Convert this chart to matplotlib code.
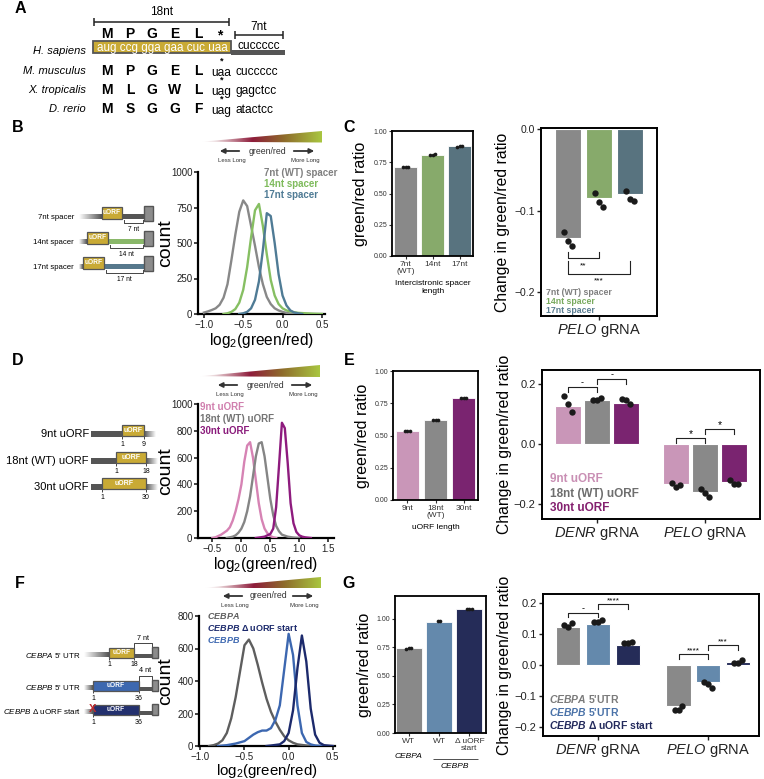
import numpy as np
import matplotlib
matplotlib.use('Agg')
import matplotlib.pyplot as plt
from matplotlib.patches import Rectangle, Polygon
from matplotlib.colors import LinearSegmentedColormap

plt.rcParams['font.family'] = ['Liberation Sans', 'DejaVu Sans']
plt.rcParams['mathtext.fontset'] = 'custom'
plt.rcParams['mathtext.rm'] = 'Liberation Sans'
plt.rcParams['mathtext.it'] = 'Liberation Sans:italic'
plt.rcParams['mathtext.bf'] = 'Liberation Sans:bold'
if 'mathtext.bfit' in plt.rcParams:
    plt.rcParams['mathtext.bfit'] = 'Liberation Sans:bold:italic'

# ------------------------------------------------------------------ data
# Panel B histograms (log2 green/red -> count)
b7_x = [-1.0, -0.95, -0.9, -0.85, -0.8, -0.75, -0.7, -0.65, -0.6, -0.55, -0.5, -0.45,
        -0.4, -0.35, -0.3, -0.25, -0.2, -0.15, -0.1, -0.05, 0.0, 0.05, 0.1, 0.15]
b7_y = [10, 18, 28, 40, 65, 115, 210, 380, 560, 720, 800, 760,
        620, 480, 330, 210, 120, 70, 40, 25, 15, 8, 3, 0]
b14_x = [-0.75, -0.7, -0.65, -0.6, -0.55, -0.5, -0.45, -0.4, -0.35, -0.3, -0.25, -0.2,
         -0.15, -0.1, -0.05, 0.0, 0.05, 0.1, 0.15, 0.2, 0.3, 0.4, 0.5]
b14_y = [0, 5, 15, 35, 80, 170, 330, 540, 730, 775, 620, 420,
         240, 130, 70, 40, 25, 18, 12, 8, 5, 2, 0]
b17_x = [-0.55, -0.5, -0.45, -0.4, -0.35, -0.3, -0.25, -0.2, -0.15, -0.1, -0.05,
         0.0, 0.05, 0.1, 0.15, 0.2, 0.25]
b17_y = [0, 5, 15, 40, 100, 230, 450, 710, 690, 500, 280, 130, 60, 25, 10, 5, 0]

# Panel C
c_labels = ['7nt\n(WT)', '14nt', '17nt']
c_ratio = [0.71, 0.81, 0.88]
c_ratio_reps = [[0.710, 0.711, 0.713], [0.806, 0.810, 0.815], [0.876, 0.878, 0.881]]
c_change = [-0.133, -0.084, -0.080]
c_change_reps = [[-0.126, -0.137, -0.143], [-0.078, -0.089, -0.095], [-0.076, -0.085, -0.088]]
c_legend = ['7nt (WT) spacer', '14nt spacer', '17nt spacer']

# Panel D histograms
d9_x = [-0.5, -0.45, -0.4, -0.35, -0.3, -0.25, -0.2, -0.15, -0.1, -0.05, 0.0, 0.05, 0.1,
        0.15, 0.2, 0.25, 0.3, 0.35, 0.4, 0.45, 0.5, 0.55, 0.6]
d9_y = [0, 5, 15, 25, 40, 55, 80, 130, 200, 290, 400, 570, 690,
        715, 600, 430, 260, 140, 70, 35, 15, 5, 0]
d18_x = [-0.25, -0.2, -0.15, -0.1, -0.05, 0.0, 0.05, 0.1, 0.15, 0.2, 0.25, 0.3, 0.35,
         0.4, 0.45, 0.5, 0.55, 0.6, 0.65, 0.7, 0.8, 0.9, 1.0]
d18_y = [0, 5, 10, 20, 40, 70, 120, 200, 310, 460, 610, 705, 715,
         610, 450, 290, 170, 90, 50, 25, 10, 3, 0]
d30_x = [0.25, 0.3, 0.4, 0.5, 0.55, 0.6, 0.65, 0.7, 0.75, 0.8, 0.85, 0.9, 0.95, 1.0,
         1.05, 1.1, 1.2]
d30_y = [0, 3, 10, 30, 70, 230, 540, 860, 820, 560, 260, 110, 45, 20, 10, 5, 0]

# Panel E
e_labels = ['9nt', '18nt\n(WT)', '30nt']
e_ratio = [0.535, 0.62, 0.79]
e_ratio_reps = [[0.535, 0.535, 0.537], [0.620, 0.621, 0.623], [0.789, 0.790, 0.790]]
e_groups = ['DENR', 'PELO']
e_denr = [0.128, 0.147, 0.136]
e_denr_reps = [[0.161, 0.134, 0.106], [0.147, 0.148, 0.152], [0.150, 0.148, 0.132]]
e_pelo = [-0.133, -0.159, -0.126]
e_pelo_reps = [[-0.131, -0.142, -0.136], [-0.150, -0.164, -0.178], [-0.120, -0.134, -0.134]]
e_legend = ['9nt uORF', '18nt (WT) uORF', '30nt uORF']

# Panel F histograms
fa_x = [-0.9, -0.85, -0.8, -0.75, -0.7, -0.65, -0.6, -0.55, -0.5, -0.45, -0.4, -0.35,
        -0.3, -0.25, -0.2, -0.15, -0.1, -0.05, 0.0, 0.05, 0.1, 0.2, 0.3]
fa_y = [0, 5, 15, 35, 80, 170, 300, 460, 620, 655, 600, 500,
        390, 290, 210, 150, 100, 60, 35, 20, 10, 3, 0]
fb_x = [-0.8, -0.7, -0.6, -0.5, -0.45, -0.4, -0.35, -0.3, -0.25, -0.2, -0.15, -0.1,
        -0.05, 0.0, 0.05, 0.1, 0.15, 0.2, 0.25, 0.3, 0.4]
fb_y = [0, 5, 15, 30, 50, 70, 85, 95, 95, 110, 160, 250,
        470, 690, 560, 250, 80, 25, 10, 3, 0]
fd_x = [-0.25, -0.2, -0.1, -0.05, 0.0, 0.05, 0.1, 0.15, 0.2, 0.25, 0.3, 0.35, 0.4, 0.5]
fd_y = [0, 3, 10, 30, 80, 220, 480, 680, 520, 230, 70, 20, 5, 0]

# Panel G
g_labels = ['WT', 'WT', '\u0394 uORF\nstart']
g_ratio = [0.743, 0.976, 1.088]
g_ratio_reps = [[0.738, 0.741, 0.746], [0.978, 0.982], [1.086, 1.088, 1.090]]
g_denr = [0.123, 0.132, 0.065]
g_denr_reps = [[0.130, 0.123, 0.135], [0.140, 0.140, 0.145], [0.070, 0.070, 0.074]]
g_pelo = [-0.133, -0.056, 0.010]
g_pelo_reps = [[-0.144, -0.144, -0.131], [-0.054, -0.060, -0.074], [0.008, 0.008, 0.016]]

# ------------------------------------------------------------------ figure
W, H = 764, 779
fig = plt.figure(figsize=(W / 100, H / 100), dpi=100)


def axpx(l, t, r, b):
    return fig.add_axes([l / W, 1 - b / H, (r - l) / W, (b - t) / H])


def hist_ax(ax, curves, xlim, ylim, xticks, yticks, lab_x, xl_pad=1, xl_fs=11.2):
    for x, y, c in curves:
        ax.plot(x, y, color=c, lw=1.7, zorder=3)
    ax.set_xlim(xlim)
    ax.set_ylim(ylim)
    for s in ['top', 'right']:
        ax.spines[s].set_visible(False)
    for s in ['left', 'bottom']:
        ax.spines[s].set_linewidth(1.6)
    ax.set_xticks(xticks)
    ax.set_yticks(yticks)
    ax.tick_params(labelsize=7, length=3, width=1.2, pad=1, colors='#222222')
    ax.set_xlabel('log$_2$(green/red)', fontsize=xl_fs, labelpad=xl_pad)
    ax.set_ylabel('count', fontsize=14)
    ax.yaxis.set_label_coords(lab_x, 0.5)


def small_bar(ax, vals, reps, colors, labels, ylim, xlabel, width=0.82, lab_x=-0.28):
    x = np.arange(1, len(vals) + 1)
    ax.bar(x, vals, width=width, color=colors, edgecolor='white', lw=0.6, zorder=2)
    for xi, r in zip(x, reps):
        n = len(r)
        jx = xi + (np.arange(n) - (n - 1) / 2) * 0.09
        ax.scatter(jx, r, s=7, color='#1a1a1a', lw=0, zorder=3)
    ax.set_xlim(0.5, len(vals) + 0.5)
    ax.set_ylim(ylim)
    ax.set_xticks(x)
    ax.set_xticklabels(labels, fontsize=6, linespacing=1.1)
    ax.set_yticks([0, 0.25, 0.5, 0.75, 1.0])
    ax.set_yticklabels(['0.00', '0.25', '0.50', '0.75', '1.00'], fontsize=5)
    ax.tick_params(length=2, width=0.8, pad=1.5, colors='#333333')
    for s in ax.spines.values():
        s.set_linewidth(1.3)
    ax.set_ylabel('green/red ratio', fontsize=11.5)
    ax.yaxis.set_label_coords(lab_x, 0.5)
    if xlabel:
        ax.set_xlabel(xlabel, fontsize=6, labelpad=3, linespacing=1.2)


def change_bars(ax, centers, vals, reps, colors, width):
    ax.bar(centers, vals, width=width, color=colors, edgecolor='white', lw=0.8, zorder=2)
    for c, r in zip(centers, reps):
        n = len(r)
        jx = c + (np.arange(n) - (n - 1) / 2) * 0.035
        ax.scatter(jx, r, s=21, color='#1a1a1a', lw=0, zorder=3)


def style_change(ax, yticks, ytl, fs=8, lab_x=-0.14):
    for s in ax.spines.values():
        s.set_linewidth(1.4)
    ax.set_yticks(yticks)
    ax.set_yticklabels(ytl, fontsize=fs)
    ax.tick_params(length=3, width=1.0, pad=1.5, colors='#222222')
    ax.set_ylabel('Change in green/red ratio', fontsize=11.3)
    ax.yaxis.set_label_coords(lab_x, 0.5)


def bracket(ax, x0, x1, y, tip, label, ty, fs=6.5):
    ax.plot([x0, x0, x1, x1], [tip, y, y, tip], color='#222222', lw=0.8, zorder=4)
    ax.text((x0 + x1) / 2, ty, label, ha='center', va='center', fontsize=fs, zorder=4)


# ---------------- Panel B histogram
axB = axpx(198, 172, 325, 314)
hist_ax(axB, [(b7_x, b7_y, '#888888'), (b14_x, b14_y, '#86bf62'), (b17_x, b17_y, '#4f7b95')],
        (-1.075, 0.54), (0, 1000), [-1.0, -0.5, 0.0, 0.5], [0, 250, 500, 750, 1000], -0.19)

# ---------------- Panel C
axC1 = axpx(392, 131, 473, 256)
small_bar(axC1, c_ratio, c_ratio_reps, ['#898989', '#87aa6b', '#58737f'], c_labels, (0, 1.0),
          'Intercistronic spacer\nlength', lab_x=-0.30)

axC2 = axpx(541, 128, 657, 316)
c_cent = [0.7, 1.0, 1.3]
change_bars(axC2, c_cent, c_change, c_change_reps, ['#898989', '#87aa6b', '#58737f'], 0.25)
axC2.set_xlim(0.44, 1.56)
axC2.set_ylim(-0.229, 0.0015)
axC2.set_xticks([1.0])
axC2.set_xticklabels([r'$\mathit{PELO}$ gRNA'], fontsize=10.5)
style_change(axC2, [-0.2, -0.1, 0.0], ['\u22120.2', '\u22120.1', '0.0'], fs=7.5, lab_x=-0.27)
bracket(axC2, c_cent[0], c_cent[1], -0.158, -0.151, '**', -0.167, fs=6)
bracket(axC2, c_cent[0], c_cent[2], -0.177, -0.162, '***', -0.186, fs=6)

# ---------------- Panel D histogram
axD = axpx(198, 404, 334, 538)
hist_ax(axD, [(d9_x, d9_y, '#d683b4'), (d18_x, d18_y, '#858585'), (d30_x, d30_y, '#8e1b7e')],
        (-0.75, 1.6), (0, 1000), [-0.5, 0.0, 0.5, 1.0, 1.5], [0, 200, 400, 600, 800, 1000], -0.176)

# ---------------- Panel E
axE1 = axpx(393, 371, 478, 500)
small_bar(axE1, e_ratio, e_ratio_reps, ['#c996b8', '#898989', '#7a2470'], e_labels, (0, 1.0),
          'uORF length', lab_x=-0.27)

axE2 = axpx(542, 370, 760, 519)
e_off = 0.27
e_c1 = [1 - e_off, 1, 1 + e_off]
e_c2 = [2 - e_off, 2, 2 + e_off]
e_cols = ['#c996b8', '#898989', '#7a2470']
change_bars(axE2, e_c1, e_denr, e_denr_reps, e_cols, 0.24)
change_bars(axE2, e_c2, e_pelo, e_pelo_reps, e_cols, 0.24)
axE2.set_xlim(0.49, 2.51)
axE2.set_ylim(-0.25, 0.2467)
axE2.set_xticks([1, 2])
axE2.set_xticklabels([r'$\mathit{DENR}$ gRNA', r'$\mathit{PELO}$ gRNA'], fontsize=10.5)
style_change(axE2, [-0.2, 0.0, 0.2], ['\u22120.2', '0.0', '0.2'], fs=8, lab_x=-0.138)
bracket(axE2, e_c1[0], e_c1[1], 0.19, 0.173, '-', 0.205)
bracket(axE2, e_c1[1], e_c1[2], 0.217, 0.200, '-', 0.232)
bracket(axE2, e_c2[0], e_c2[1], 0.021, 0.004, '*', 0.034, fs=7.5)
bracket(axE2, e_c2[1], e_c2[2], 0.050, 0.033, '*', 0.063, fs=7.5)

# ---------------- Panel F histogram
axF = axpx(199, 616, 335, 746)
hist_ax(axF, [(fa_x, fa_y, '#5e5e5e'), (fb_x, fb_y, '#3c67b0'), (fd_x, fd_y, '#1c2a6c')],
        (-1.015, 0.525), (0, 800), [-1.0, -0.5, 0.0, 0.5], [0, 200, 400, 600, 800], -0.184,
        xl_pad=0, xl_fs=10.8)

# ---------------- Panel G
axG1 = axpx(395, 596, 486, 733)
small_bar(axG1, g_ratio, g_ratio_reps, ['#898989', '#6489ac', '#252c58'], g_labels, (0, 1.2),
          None, width=0.85, lab_x=-0.25)
axG1.set_xlim(0.55, 3.55)

axG2 = axpx(543, 594, 759, 736)
g_off = 0.27
g_c1 = [1 - g_off, 1, 1 + g_off]
g_c2 = [2 - g_off, 2, 2 + g_off]
g_cols = ['#898989', '#6489ac', '#252c58']
change_bars(axG2, g_c1, g_denr, g_denr_reps, g_cols, 0.22)
change_bars(axG2, g_c2, g_pelo, g_pelo_reps, g_cols, 0.22)
axG2.set_xlim(0.5, 2.46)
axG2.set_ylim(-0.229, 0.229)
axG2.set_xticks([1, 2])
axG2.set_xticklabels([r'$\mathit{DENR}$ gRNA', r'$\mathit{PELO}$ gRNA'], fontsize=10.5)
style_change(axG2, [-0.2, -0.1, 0.0, 0.1, 0.2], ['\u22120.2', '\u22120.1', '0.0', '0.1', '0.2'],
             fs=8, lab_x=-0.144)
bracket(axG2, g_c1[0], g_c1[1], 0.169, 0.155, '-', 0.181)
bracket(axG2, g_c1[1], g_c1[2], 0.197, 0.181, '****', 0.208, fs=6)
bracket(axG2, g_c2[0], g_c2[1], 0.035, 0.020, '****', 0.046, fs=6)
bracket(axG2, g_c2[1], g_c2[2], 0.065, 0.049, '***', 0.076, fs=6)

# ------------------------------------------------------------------ overlay (schematics/text)
ov = fig.add_axes([0, 0, 1, 1])
ov.set_zorder(10)
ov.patch.set_alpha(0)
ov.axis('off')

YEL = '#c9aa35'
DG = '#555555'


def T(x, y, s, **kw):
    kw.setdefault('ha', 'center')
    kw.setdefault('va', 'center')
    ov.text(x, y, s, **kw)


def rect(x0, y0, x1, y1, fc, ec=DG, lw=0.9, z=3):
    ov.add_patch(Rectangle((x0, y0), x1 - x0, y1 - y0, fc=fc, ec=ec, lw=lw, zorder=z))


fade_in = LinearSegmentedColormap.from_list('fi', ['#ffffff', DG])
fade_out = LinearSegmentedColormap.from_list('fo', [DG, '#ffffff'])


def grad(x0, y0, x1, y1, cmap, z=2):
    ov.imshow(np.linspace(0, 1, 64)[None, :], extent=(x0, x1, y1, y0), cmap=cmap,
              aspect='auto', zorder=z, interpolation='bilinear')


def hline(x0, x1, y, color='#222222', lw=0.7):
    ov.plot([x0, x1], [y, y], color=color, lw=lw, solid_capstyle='butt')


def vline(x, y0, y1, color='#222222', lw=0.7):
    ov.plot([x, x], [y0, y1], color=color, lw=lw, solid_capstyle='butt')


# panel letters
for lab, (x, y) in {'A': (20, 8), 'B': (18, 127), 'C': (349, 127), 'D': (18, 360),
                    'E': (349, 360), 'F': (20, 583), 'G': (349, 583)}.items():
    T(x, y, lab, fontsize=11.5, fontweight='bold')

# ---------------- Panel A
hline(94, 229, 22, lw=1.1)
vline(94, 18, 26, lw=1.1)
vline(229, 18, 26, lw=1.1)
T(162, 12, '18nt', fontsize=8.5)
hline(235, 283, 35, lw=1.1)
vline(235, 31, 39, lw=1.1)
vline(283, 31, 39, lw=1.1)
T(259, 27, '7nt', fontsize=8.5)
cols = [107, 130, 152, 175, 198]
for x, aa in zip(cols, 'MPGEL'):
    T(x, 34, aa, fontsize=10, fontweight='bold')
T(220, 35, '*', fontsize=10, fontweight='bold')
rect(93, 41, 231, 53, YEL, ec=DG, lw=1.3)
T(162, 47.5, 'aug ccg gga gaa cuc uaa', fontsize=8.4, color='white')
ov.add_patch(Rectangle((231, 50), 54, 4.5, fc=DG, ec='none', zorder=3))
T(259, 46, 'cuccccc', fontsize=8.6)
T(86, 51, 'H. sapiens', fontsize=8, fontstyle='italic', ha='right')
species = [('M. musculus', 71, 'MPGEL', 'uaa', 'cuccccc'),
           ('X. tropicalis', 90, 'MLGWL', 'uag', 'gagctcc'),
           ('D. rerio', 109, 'MSGGF', 'uag', 'atactcc')]
for name, y, aas, stop, tail in species:
    T(86, y, name, fontsize=8, fontstyle='italic', ha='right')
    for x, aa in zip(cols, aas):
        T(x, y, aa, fontsize=10, fontweight='bold')
    T(221, y + 1.5, stop, fontsize=8.6)
    T(222, y - 9.5, '*', fontsize=6.5, fontweight='bold')
    T(236, y + 1, tail, fontsize=8.6, ha='left')

# ---------------- gradient bars
gcmap = LinearSegmentedColormap.from_list('gr', [(0, '#ffffff'), (0.12, '#ead7da'),
                                                 (0.42, '#8e1c3b'), (0.68, '#8e6a2b'),
                                                 (1.0, '#a9c640')])


def gradient_block(x0, x1, ytop, ybot, ytext):
    im = ov.imshow(np.linspace(0, 1, 256)[None, :], extent=(x0, x1, ybot, ytop), cmap=gcmap,
                   aspect='auto', zorder=3, interpolation='bilinear')
    poly = Polygon([(x0, ybot - 0.8), (x1, ytop), (x1, ybot)], closed=True,
                   transform=ov.transData, fc='none', ec='none')
    ov.add_patch(poly)
    im.set_clip_path(poly)
    T((x0 + x1) / 2 + 5, ytext, 'green/red', fontsize=6.3, color='#333333')
    ov.annotate('', xy=(x0 + 15, ytext), xytext=(x0 + 40, ytext),
                arrowprops=dict(arrowstyle='-|>', color='#333333', lw=1.3, mutation_scale=7))
    ov.annotate('', xy=(x1 - 5, ytext), xytext=(x1 - 31, ytext),
                arrowprops=dict(arrowstyle='-|>', color='#333333', lw=1.3, mutation_scale=7))
    T(x0 + 30, ytext + 9, 'Less Long', fontsize=4.3, color='#333333')
    T(x1 - 17, ytext + 9, 'More Long', fontsize=4.3, color='#333333')


gradient_block(202, 322, 131, 142.5, 151)
gradient_block(200, 320, 365, 377, 385)
gradient_block(205, 321, 577, 588.5, 596)

# ---------------- legends
for i, (s, c) in enumerate(zip(c_legend, ['#808080', '#7fbb5c', '#4f7b95'])):
    T(264, 173 + 11 * i, s, fontsize=7, fontweight='bold', color=c, ha='left')
for i, (s, c) in enumerate(zip(c_legend, ['#7f7f7f', '#79aa5e', '#5a7d91'])):
    T(546, 292 + 9 * i, s, fontsize=6.3, fontweight='bold', color=c, ha='left')
for i, (s, c) in enumerate(zip(e_legend, ['#d07fae', '#747474', '#8a1b7b'])):
    T(200, 407 + 12 * i, s, fontsize=7, fontweight='bold', color=c, ha='left')
for i, (s, c) in enumerate(zip(e_legend, ['#c98fb4', '#6e6e6e', '#84206f'])):
    T(550, 479 + 14.5 * i, s, fontsize=8.5, fontweight='bold', color=c, ha='left')

f_leg = [r'$\mathbfit{CEBPA}$', r'$\mathbfit{CEBPB}$ $\mathbf{\Delta}$ uORF start', r'$\mathbfit{CEBPB}$']
for i, (s, c) in enumerate(zip(f_leg, ['#5e5e5e', '#1c2a6c', '#3c67b0'])):
    T(207, 616 + 12 * i, s, fontsize=6.5, fontweight='bold', color=c, ha='left')
g_leg = [r"$\mathbfit{CEBPA}$ 5'UTR", r"$\mathbfit{CEBPB}$ 5'UTR",
         r'$\mathbfit{CEBPB}$ $\mathbf{\Delta}$ uORF start']
for i, (s, c) in enumerate(zip(g_leg, ['#7a7a7a', '#4a72a8', '#232a5c'])):
    T(549, 699 + 13 * i, s, fontsize=7.5, fontweight='bold', color=c, ha='left')

# G left extra labels
T(408, 753, 'CEBPA', fontsize=6, fontstyle='italic', va='top')
hline(433, 478, 759, color='#333333', lw=0.6)
T(455, 763, 'CEBPB', fontsize=6, fontstyle='italic', va='top')

# ---------------- Panel B schematic
def uorf(x0, y0, x1, y1, fc=YEL, fs=4.8):
    rect(x0, y0, x1, y1, fc, ec=DG, lw=0.9, z=4)
    T((x0 + x1) / 2, (y0 + y1) / 2, 'uORF', fontsize=fs, color='white', fontweight='bold', zorder=5)


def small_bracket_below(x0, x1, y, txt):
    ov.plot([x0, x0, x1, x1], [y - 3, y, y, y - 3], color='#444444', lw=0.7)
    T((x0 + x1) / 2, y + 6, txt, fontsize=4.8)


rows_b = [(216, '7nt spacer', 102, 122, DG, '7 nt'),
          (241, '14nt spacer', 87, 108, '#8ab86a', '14 nt'),
          (266, '17nt spacer', 83, 104, '#56788c', '17 nt')]
for y, lab, bx0, bx1, lc, br in rows_b:
    T(74, y + 1, lab, fontsize=5.6, ha='right')
    grad(79, y - 2, bx0, y + 2.5, fade_in)
    uorf(bx0, y - 9, bx1, y + 2.5)
    ov.add_patch(Rectangle((bx1, y - 2), 144 - bx1, 4.5, fc=lc, ec='none', zorder=3))
    rect(144, y - 10, 153, y + 5, '#8c8c8c', ec=DG, lw=1.0)
    small_bracket_below(bx1 + 1.5, 143, y + 7, br)

# ---------------- Panel D schematic
rows_d = [(434, '9nt uORF', 122, 144, '1', '9'),
          (461, '18nt (WT) uORF', 116, 146, '1', '18'),
          (487, '30nt uORF', 102, 146, '1', '30')]
for y, lab, bx0, bx1, l0, l1 in rows_d:
    T(89, y, lab, fontsize=8, ha='right')
    ov.add_patch(Rectangle((91, y - 3), bx0 - 91, 6, fc=DG, ec='none', zorder=3))
    grad(bx1, y - 3, bx1 + 12, y + 3, fade_out)
    uorf(bx0, y - 9, bx1, y + 2, fs=5)
    vline(bx0, y + 2, y + 5, color='#444444')
    vline(bx1, y + 2, y + 5, color='#444444')
    T(bx0, y + 10, l0, fontsize=5)
    T(bx1, y + 10, l1, fontsize=5)

# ---------------- Panel F schematic
rows_f = [(655, r"$\mathit{CEBPA}$ 5' UTR", 109, 134, YEL, '18', '7 nt'),
          (688, r"$\mathit{CEBPB}$ 5' UTR", 93, 139, '#3d68b0', '36', '4 nt'),
          (712, r"$\mathit{CEBPB}$ $\Delta$ uORF start", 93, 139, '#23306e', '36', None)]
for y, lab, bx0, bx1, fc, l1, br in rows_f:
    T(81, y, lab, fontsize=5.8, ha='right')
    grad(84, y - 2, bx0, y + 2.5, fade_in)
    uorf(bx0, y - 7, bx1, y + 2.5, fc=fc, fs=4.8)
    ov.add_patch(Rectangle((bx1, y - 1), 152 - bx1, 4, fc=DG, ec='none', zorder=3))
    rect(152, y - 8, 158, y + 3, '#8c8c8c', ec=DG, lw=1.0)
    vline(bx0, y + 3, y + 5, color='#444444')
    vline(bx1, y + 3, y + 5, color='#444444')
    T(bx0, y + 10, '1', fontsize=5)
    T(bx1, y + 10, l1, fontsize=5)
    if br:
        ov.plot([bx1, bx1, 152, 152], [y - 6, y - 12, y - 12, y - 6], color='#444444', lw=0.7)
        T((bx1 + 152) / 2, y - 17, br, fontsize=5.2)
T(93, 709, 'X', fontsize=8, color='#c0282d', fontweight='bold', zorder=6)

ov.set_xlim(0, W)
ov.set_ylim(H, 0)

fig.savefig('out.png', dpi=100)
